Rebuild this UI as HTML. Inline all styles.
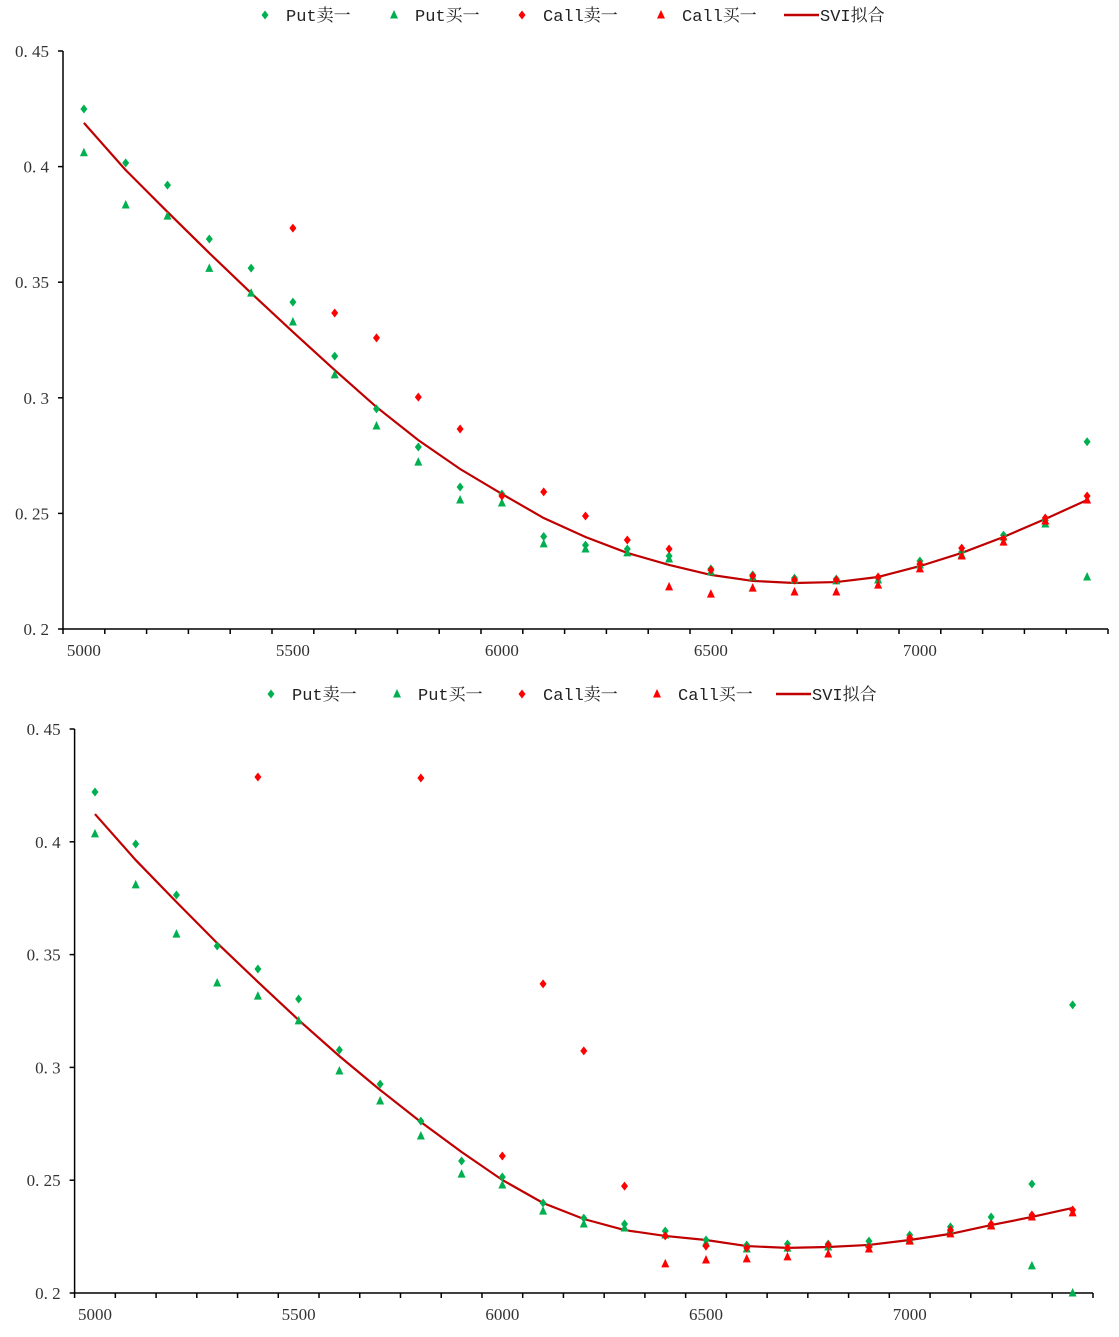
<!DOCTYPE html>
<html><head><meta charset="utf-8">
<style>
html,body{margin:0;padding:0;background:#fff;}
svg text{font-family:"Liberation Serif","Noto Serif CJK SC",serif;}
.lg{font-family:"Liberation Mono","Noto Serif CJK SC",monospace;font-size:17px;fill:#222;}
</style></head>
<body>
<svg id="c" width="1119" height="1332" xmlns="http://www.w3.org/2000/svg"></svg>
<script>
const strikes = [5000,5100,5200,5300,5400,5500,5600,5700,5800,5900,6000,6100,6200,6300,6400,6500,6600,6700,6800,6900,7000,7100,7200,7300,7400];
const yTicks = [0.2,0.25,0.3,0.35,0.4,0.45];
const yTickLabels = ["0. 2","0. 25","0. 3","0. 35","0. 4","0. 45"];
const xTickLabels = [5000,5500,6000,6500,7000];
const callStrikes1 = [5500,5600,5700,5800,5900,6000,6100,6200,6300,6400,6500,6600,6700,6800,6900,7000,7100,7200,7300,7400];
const callBuyStrikes1 = [6400,6500,6600,6700,6800,6900,7000,7100,7200,7300,7400];
const putSell1 = [0.4249,0.4016,0.392,0.3687,0.3561,0.3414,0.318,0.2952,0.2787,0.2614,0.2584,0.240,0.2363,0.2346,0.2316,0.226,0.2234,0.222,0.2216,0.222,0.2294,0.2333,0.2406,0.247,0.281];
const putBuy1 = [0.406,0.3834,0.3786,0.356,0.3453,0.3328,0.3099,0.2878,0.2722,0.2558,0.2545,0.2368,0.2346,0.2329,0.2303,0.2247,0.2225,0.2212,0.2208,0.2212,0.2277,0.232,0.2398,0.2454,0.2225];
const callSell1 = [0.3734,0.3367,0.3259,0.3003,0.2865,0.2575,0.2593,0.2489,0.2385,0.2346,0.2255,0.2229,0.2212,0.2212,0.2225,0.2281,0.235,0.239,0.248,0.2575];
const callBuy1 = [0.2182,0.2151,0.2177,0.216,0.216,0.219,0.226,0.2316,0.2376,0.2467,0.2558];
const svi1 = [0.4189,0.3985,0.3804,0.3626,0.3453,0.3285,0.312,0.296,0.2817,0.2692,0.2584,0.248,0.2398,0.2329,0.2277,0.2234,0.2208,0.2199,0.2203,0.2225,0.2272,0.2329,0.2398,0.2476,0.2558];
const callStrikes2 = [5400,5800,6000,6100,6200,6300,6400,6500,6600,6700,6800,6900,7000,7100,7200,7300,7400];
const callBuyStrikes2 = [6400,6500,6600,6700,6800,6900,7000,7100,7200,7300,7400];
const putSell2 = [0.4221,0.399,0.3764,0.3538,0.3436,0.3303,0.3077,0.2926,0.2762,0.2585,0.2514,0.2399,0.2332,0.2306,0.2275,0.2235,0.2213,0.2217,0.2217,0.223,0.2257,0.2293,0.2337,0.2483,0.3277];
const putBuy2 = [0.4035,0.3809,0.3591,0.3374,0.3316,0.3206,0.2984,0.2851,0.2696,0.2527,0.2479,0.2363,0.2306,0.2288,0.2257,0.2222,0.2195,0.2199,0.2204,0.2217,0.2235,0.2279,0.2301,0.212,0.2];
const callSell2 = [0.4287,0.4283,0.2607,0.337,0.3073,0.2474,0.2253,0.2208,0.22,0.22,0.2213,0.2204,0.2244,0.2279,0.2306,0.2346,0.2368];
const callBuy2 = [0.2129,0.2146,0.2151,0.216,0.2173,0.2195,0.223,0.2262,0.2297,0.2337,0.2355];
const svi2 = [0.4123,0.3919,0.3733,0.3551,0.3379,0.321,0.305,0.29,0.2758,0.2625,0.2501,0.2399,0.2328,0.2279,0.2253,0.2235,0.2208,0.22,0.2204,0.2213,0.2235,0.2262,0.2301,0.2337,0.2377];

const NS="http://www.w3.org/2000/svg";
const svg=document.getElementById('c');
function mk(tag,attrs,parent){const e=document.createElementNS(NS,tag);for(const k in attrs)e.setAttribute(k,attrs[k]);(parent||svg).appendChild(e);return e;}
const GREEN="#00B050",RED="#FF0000",LINE="#C00000";
function diamond(g,x,y,c){return mk('path',{d:`M${x},${y-4.5}L${x+3.5},${y}L${x},${y+4.5}L${x-3.5},${y}Z`,fill:c},g);}
function tri(g,x,y,c){return mk('path',{d:`M${x},${y-5}L${x+4},${y+3.5}L${x-4},${y+3.5}Z`,fill:c},g);}

function chart(cfg){
  const g=mk('g',{});
  
  
  const X=k=>cfg.x0+(k-4950)*(cfg.x1-cfg.x0)/2500;
  const Y=v=>cfg.yb-(v-0.2)*(cfg.yb-cfg.yt)/0.25;
  // axes
  const ax=mk('line',{x1:cfg.x0,y1:cfg.yt,x2:cfg.x0,y2:cfg.yb,stroke:'#000','stroke-width':1.5},g);
  
  const axx=mk('line',{x1:cfg.x0,y1:cfg.yb,x2:cfg.x1,y2:cfg.yb,stroke:'#000','stroke-width':1.5},g);
  
  yTicks.forEach((v,i)=>{
    mk('line',{x1:cfg.x0-5,y1:Y(v),x2:cfg.x0,y2:Y(v),stroke:'#000','stroke-width':1.5},g);
    const t=mk('text',{x:cfg.x0-14,y:Y(v)+6,'text-anchor':'end','font-size':17,fill:'#333'},g);
    t.textContent=yTickLabels[i];
    
  });
  for(let k=4950;k<=7450;k+=100){mk('line',{x1:X(k),y1:cfg.yb,x2:X(k),y2:cfg.yb+5,stroke:'#000','stroke-width':1.5},g);}
  xTickLabels.forEach(k=>{
    const t=mk('text',{x:X(k),y:cfg.yb+27,'text-anchor':'middle','font-size':17,fill:'#333'},g);
    t.textContent=k;
    
  });
  // svi line
  const p=mk('polyline',{points:strikes.map((k,i)=>X(k)+','+Y(cfg.svi[i])).join(' '),fill:'none',stroke:LINE,'stroke-width':2.2},g);
  
  strikes.forEach((k,i)=>{const m=diamond(g,X(k),Y(cfg.ps[i]),GREEN);});
  strikes.forEach((k,i)=>{const m=tri(g,X(k),Y(cfg.pb[i]),GREEN);});
  cfg.cs.forEach((k,i)=>{const m=diamond(g,X(k),Y(cfg.csv[i]),RED);});
  cfg.cb.forEach((k,i)=>{const m=tri(g,X(k),Y(cfg.cbv[i]),RED);});
  // legend
  const L=mk('g',{},g);
  
  const ly=cfg.ly, lx=cfg.lx;
  const items=[['Put卖一','d',GREEN],['Put买一','t',GREEN],['Call卖一','d',RED],['Call买一','t',RED],['SVI拟合','l',LINE]];
  items.forEach((it,i)=>{
    const x=lx[i];
    const e=mk('g',{},L);
    
    if(it[1]==='d')diamond(e,x,ly,it[2]);else if(it[1]==='t')tri(e,x,ly,it[2]);else mk('line',{x1:x-35,y1:ly,x2:x,y2:ly,stroke:it[2],'stroke-width':2.5},e);
    const t=mk('text',{x:it[1]==='l'?x+1:x+21,y:ly+6,'class':'lg'},e);t.textContent=it[0];
  });
}
chart({name:'chart-top',x0:63,x1:1108,yt:51,yb:629,svi:svi1,ps:putSell1,pb:putBuy1,cs:callStrikes1,csv:callSell1,cb:callBuyStrikes1,cbv:callBuy1,ly:15,lx:[265,394,522,661,819]});
chart({name:'chart-bottom',x0:74.6,x1:1093,yt:729,yb:1293,svi:svi2,ps:putSell2,pb:putBuy2,cs:callStrikes2,csv:callSell2,cb:callBuyStrikes2,cbv:callBuy2,ly:694,lx:[271,397,522,657,811]});
</script>
</body></html>
